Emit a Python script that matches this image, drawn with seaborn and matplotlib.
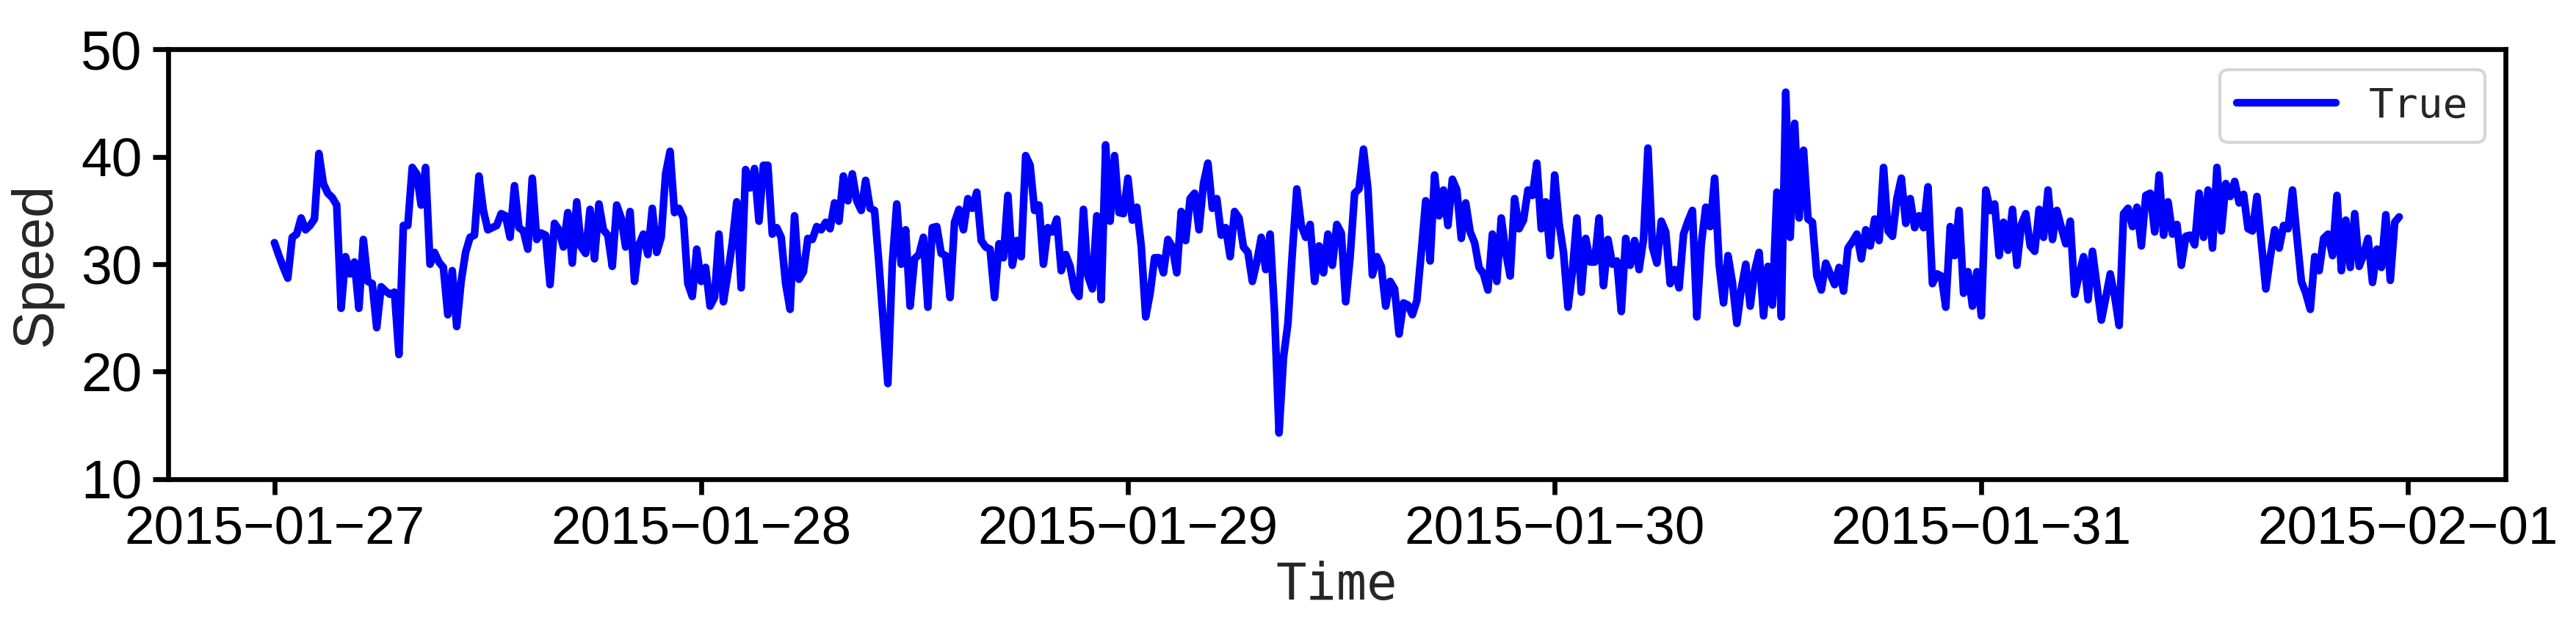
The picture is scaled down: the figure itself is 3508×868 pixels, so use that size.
import seaborn as sns
import matplotlib.pyplot as plt
import matplotlib.dates as mdates
import pandas as pd

# speed readings, 15 minute steps, split into half days
speed_27_am = [32.0, 30.8, 29.7, 28.7, 32.5, 32.8, 34.3, 33.2, 33.6, 34.2,
               40.3, 37.5, 36.6, 36.2, 35.5, 25.9, 30.7, 29.1, 30.2, 25.9,
               32.3, 28.4, 28.2, 24.1, 27.9, 27.5, 27.2, 27.4, 21.6, 33.6,
               33.6, 39.0, 38.4, 35.5, 39.0, 30.0, 31.1, 30.2, 29.7, 25.3,
               29.4, 24.2, 28.4, 31.1, 32.5, 32.7, 38.2, 35.0, 33.2]
speed_27_pm = [33.4, 33.6, 34.7, 34.5, 32.5, 37.3, 33.4, 33.1, 31.4, 38.0,
               32.3, 32.9, 32.7, 28.1, 33.8, 33.2, 31.6, 34.8, 30.1, 35.8,
               31.6, 31.0, 35.1, 30.5, 35.6, 33.2, 32.7, 29.8, 35.5, 34.3,
               31.6, 34.9, 28.4, 31.8, 32.8, 30.9, 35.2, 31.1, 32.5, 38.4,
               40.5, 34.8, 35.2, 34.3, 28.2, 27.0, 31.4, 28.4, 29.7, 26.1]
speed_28_am = [26.9, 32.8, 26.5, 29.1, 32.0, 35.8, 27.8, 38.8, 37.1, 38.9,
               34.0, 39.2, 39.2, 32.8, 33.4, 32.5, 28.2, 25.8, 34.5, 28.6,
               29.3, 32.4, 32.3, 33.5, 33.2, 33.9, 33.3, 35.7, 34.0, 38.2,
               35.9, 38.4, 35.9, 35.0, 37.8, 35.2, 35.0, 30.0, 24.5, 18.9,
               30.1, 35.6, 30.0, 33.2, 26.1, 30.5, 30.9, 32.5, 26.0, 33.4]
speed_28_pm = [33.5, 31.0, 30.8, 26.9, 33.9, 35.1, 33.2, 36.1, 35.2, 36.7,
               32.2, 31.6, 31.4, 26.9, 31.9, 30.6, 36.4, 29.9, 32.2, 30.7,
               40.1, 39.2, 35.0, 35.5, 30.0, 33.4, 33.0, 34.2, 29.4, 30.9,
               29.8, 27.6, 27.0, 35.1, 28.9, 27.7, 34.5, 26.7, 41.1, 34.0,
               40.1, 34.8, 34.7, 38.0, 34.1, 35.3, 31.7, 25.1, 27.3, 30.6]
speed_29_am = [30.6, 29.2, 32.3, 31.6, 29.2, 34.9, 32.2, 36.1, 36.6, 33.2,
               37.5, 39.4, 35.2, 36.1, 32.7, 33.4, 30.7, 34.9, 34.3, 31.6,
               31.1, 28.4, 30.2, 32.5, 29.5, 32.8, 25.4, 14.3, 21.3, 24.5,
               31.1, 37.0, 33.6, 32.5, 33.7, 28.4, 31.7, 29.2, 32.8, 29.9,
               33.7, 32.9, 26.5, 30.7, 36.6, 37.0, 40.7, 37.0, 29.0]
speed_29_pm = [30.7, 29.8, 26.1, 28.4, 27.7, 23.5, 26.4, 26.2, 25.3, 26.6,
               31.1, 35.9, 30.3, 38.3, 34.5, 36.9, 33.6, 37.9, 36.9, 32.4,
               35.7, 33.0, 32.0, 29.7, 29.1, 27.6, 32.8, 28.4, 34.3, 31.1,
               28.9, 36.1, 33.3, 34.1, 36.9, 36.4, 39.4, 33.3, 35.8, 30.8,
               38.3, 33.8, 31.1, 26.0, 29.3, 34.3, 27.4, 32.4, 30.2]
speed_30_am = [30.2, 34.3, 28.0, 32.3, 30.0, 30.3, 25.6, 32.4, 29.9, 32.2,
               29.5, 32.3, 40.8, 31.6, 30.1, 34.0, 33.0, 28.2, 29.5, 27.8,
               32.8, 34.0, 35.0, 25.1, 31.9, 35.3, 33.5, 38.0, 30.0, 26.4,
               30.8, 28.3, 24.5, 27.7, 30.0, 26.1, 29.4, 31.1, 25.2, 29.8,
               26.2, 36.7, 25.1, 46.0, 32.5, 43.1, 34.3, 40.6, 34.2]
speed_30_pm = [33.9, 28.9, 27.6, 30.1, 29.1, 28.1, 29.7, 27.5, 31.5, 32.1,
               32.8, 30.5, 33.2, 31.7, 34.2, 32.2, 39.0, 33.1, 32.6, 36.1,
               38.0, 33.8, 36.1, 33.4, 34.5, 33.4, 37.2, 28.2, 29.1, 28.9,
               26.0, 33.5, 30.8, 35.0, 27.3, 29.3, 26.1, 29.3, 25.2, 36.9,
               35.0, 35.6, 30.8, 33.9, 31.3, 35.1, 29.9, 33.7, 34.7, 31.7]
speed_31_am = [31.2, 35.1, 32.5, 36.9, 32.3, 35.0, 33.4, 31.9, 34.0, 27.2,
               29.0, 30.7, 26.7, 31.2, 28.0, 24.8, 26.9, 29.1, 27.0, 24.3,
               34.7, 35.2, 33.5, 35.3, 31.7, 36.4, 36.6, 33.0, 38.3, 32.7,
               35.8, 32.8, 33.7, 29.9, 32.6, 32.7, 31.8, 36.6, 32.5, 36.9,
               31.5, 39.0, 33.1, 37.5, 36.3, 37.7, 35.7, 36.5, 33.3]
speed_31_pm = [33.1, 36.3, 32.0, 27.7, 30.7, 33.2, 31.5, 33.6, 33.3, 36.9,
               32.5, 28.4, 27.3, 25.8, 30.7, 29.4, 32.4, 32.8, 30.8, 36.4,
               29.4, 34.1, 29.7, 34.7, 29.8, 30.9, 32.4, 28.3, 31.4, 29.7,
               34.6, 28.5, 33.9, 34.4]

start_time = '2015-01-27 00:00'
series_label = 'True'


def main():
    speed = (speed_27_am + speed_27_pm + speed_28_am + speed_28_pm + speed_29_am
             + speed_29_pm + speed_30_am + speed_30_pm + speed_31_am + speed_31_pm)
    df = pd.DataFrame({
        'Time': pd.date_range(start_time, periods=len(speed), freq='15min'),
        'Speed': speed,
    })

    sns.set_theme(style='ticks', rc={'axes.edgecolor': 'black',
                                     'xtick.color': 'black',
                                     'ytick.color': 'black'})
    plt.rcParams['font.family'] = ['Liberation Sans', 'DejaVu Sans']

    fig, ax = plt.subplots(figsize=(3508 / 300, 868 / 300), dpi=300)
    fig.subplots_adjust(left=0.0653, right=0.9726, top=0.9228, bottom=0.2477)

    sns.lineplot(data=df, x='Time', y='Speed', color='blue', linewidth=2.5,
                 label=series_label, ax=ax)

    ax.set_ylim(10, 50)
    ax.set_yticks([10, 20, 30, 40, 50])
    ax.xaxis.set_major_locator(mdates.DayLocator())
    ax.xaxis.set_major_formatter(
        plt.FuncFormatter(lambda x, pos: mdates.num2date(x).strftime('%Y-%m-%d').replace('-', '\u2212')))

    for side in ['top', 'right', 'bottom', 'left']:
        ax.spines[side].set_linewidth(1.6)
        ax.spines[side].set_color('black')
    ax.tick_params(axis='x', labelsize=17.5, width=1.6, length=5, direction='out')
    ax.tick_params(axis='y', labelsize=18, width=1.6, length=5, direction='out')

    ax.set_xlabel('Time', family='DejaVu Sans Mono', fontsize=16.5, labelpad=2)
    ax.set_ylabel('Speed', fontsize=18.5, labelpad=6)

    ax.legend(loc='upper right', prop={'family': 'DejaVu Sans Mono', 'size': 13.5},
              handlelength=2.4, frameon=True)

    fig.savefig('out.png', dpi=300)


if __name__ == '__main__':
    main()
